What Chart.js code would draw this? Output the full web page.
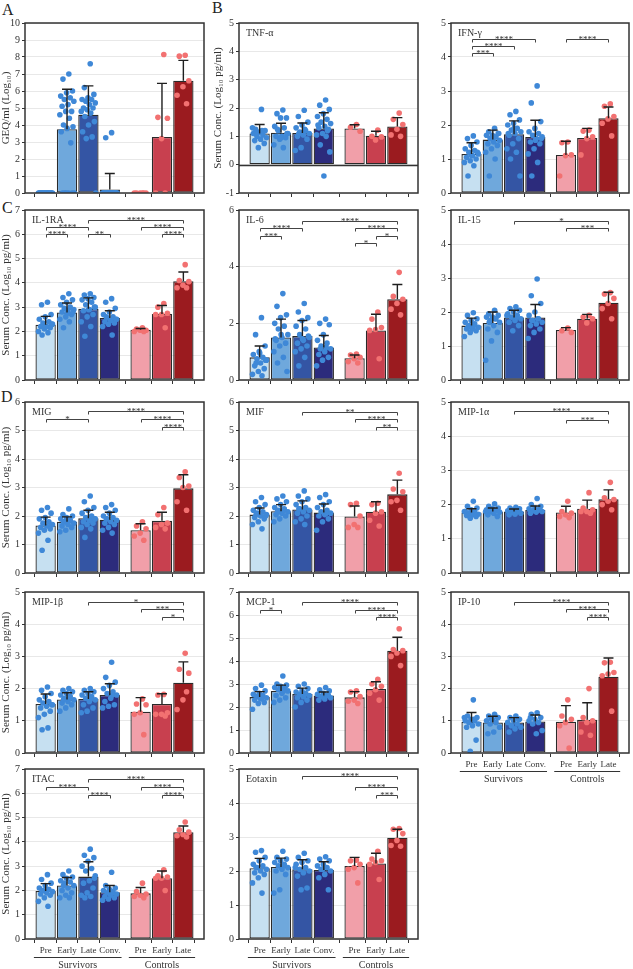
<!DOCTYPE html>
<html>
<head>
<meta charset="utf-8">
<script src="https://cdn.jsdelivr.net/npm/chart.js@4.4.1/dist/chart.umd.min.js"></script>
<style>
  html, body { margin: 0; padding: 0; background: #fff; }
  #wrap { position: relative; width: 633px; height: 969px; overflow: hidden; }
  #wrap canvas { position: absolute; left: 0; top: 0; }
  .letter { position: absolute; font-family: "Liberation Serif", "Times New Roman", serif; font-size: 16px; line-height: 16px; color: #222; }
</style>
</head>
<body>
<div id="wrap">
  <div class="letter" style="left:2px;top:2px">A</div>
  <div class="letter" style="left:212px;top:0px">B</div>
  <div class="letter" style="left:2px;top:200px">C</div>
  <div class="letter" style="left:1px;top:389px">D</div>
</div>
<script>
// groups on the x axis
const categories = ['Pre', 'Early', 'Late', 'Conv.', 'Pre', 'Early', 'Late'];
const groupOf = [0, 0, 0, 0, 1, 1, 1];
const groupNames = ['Survivors', 'Controls'];

// A: viral load
const geqMean = [0, 3.75, 4.6, 0.2, 0, 3.3, 6.6];
const geqErr = [0, 6.1, 6.3, 1.15, 0, 6.45, 7.8];
const geqPts = [
  [0, 0, 0, 0, 0, 0, 0, 0, 0, 0, 0, 0, 0, 0, 0, 0, 0, 0, 0, 0],
  [7.0, 6.7, 6.0, 5.9, 5.7, 5.6, 5.5, 5.4, 5.2, 5.1, 4.8, 4.8, 4.6, 4.4, 4.0, 3.9, 3.8, 3.6, 2.95, 0, 0, 0, 0, 0, 0],
  [7.6, 6.2, 5.8, 5.6, 5.5, 5.5, 5.4, 5.3, 5.2, 5.0, 5.0, 4.9, 4.8, 4.7, 4.5, 4.2, 4.0, 3.6, 3.3, 3.2, 0],
  [3.55, 3.25, 0, 0, 0, 0, 0, 0, 0, 0, 0, 0, 0, 0, 0, 0, 0, 0, 0, 0, 0, 0, 0, 0],
  [0, 0, 0, 0, 0, 0],
  [8.15, 4.45, 4.4, 3.2, 0, 0],
  [8.1, 8.05, 6.6, 6.25, 5.75, 5.25]
];

// TNF-a
const tnfMean = [1.1, 1.13, 1.12, 1.28, 1.28, 1.02, 1.35];
const tnfErr = [1.42, 1.46, 1.47, 1.83, 1.41, 1.18, 1.66];
const tnfPts = [
  [1.95, 1.25, 1.2, 1.15, 1.1, 1.05, 1.0, 0.95, 0.9, 0.85, 0.75, 0.6, 1.3, 1.2, 1.1],
  [1.93, 1.8, 1.65, 1.65, 1.35, 1.3, 1.2, 1.1, 1.0, 1.0, 0.95, 0.9, 0.7, 0.6, 1.25, 1.1, 0.95],
  [1.92, 1.7, 1.5, 1.4, 1.3, 1.2, 1.15, 1.1, 1.05, 1.0, 0.9, 0.6, 0.5, 1.25, 1.1],
  [2.28, 2.1, 1.95, 1.8, 1.7, 1.6, 1.5, 1.45, 1.35, 1.3, 1.25, 1.1, 1.05, 1.0, 0.7, 0.45, -0.4, 1.4, 1.2],
  [1.42, 1.32, 1.18],
  [1.22, 1.0, 0.98, 0.87],
  [1.82, 1.6, 1.42, 1.25, 1.05, 1.0]
];

// IFN-g
const ifnMean = [1.15, 1.57, 1.73, 1.65, 1.12, 1.62, 2.2];
const ifnErr = [1.48, 1.85, 2.12, 2.14, 1.52, 1.9, 2.53];
const ifnPts = [
  [1.68, 1.6, 1.5, 1.4, 1.3, 1.25, 1.2, 1.15, 1.1, 1.05, 1.0, 0.95, 0.9, 0.8, 0.5, 1.2, 1.1],
  [1.9, 1.8, 1.75, 1.7, 1.7, 1.65, 1.6, 1.55, 1.5, 1.45, 1.4, 1.3, 1.2, 1.0, 0.5, 1.75, 1.6],
  [2.4, 2.3, 2.15, 2.05, 2.0, 1.9, 1.85, 1.8, 1.75, 1.7, 1.6, 1.45, 1.3, 1.2, 1.0, 0.5, 1.9, 1.75],
  [3.15, 2.65, 2.1, 1.9, 1.8, 1.75, 1.7, 1.65, 1.6, 1.5, 1.45, 1.3, 1.15, 0.9, 0.5, 1.6, 1.55],
  [1.5, 1.48, 1.12, 1.1, 0.5],
  [1.85, 1.82, 1.65, 1.6, 1.12],
  [2.62, 2.55, 2.25, 2.18, 2.05, 1.68]
];
const ifnSig = [[0, 3, 4.54, '****'], [0, 2, 4.32, '****'], [0, 1, 4.12, '***'], [4, 6, 4.54, '****']];

// IL-1RA
const il1raMean = [2.28, 2.78, 2.93, 2.55, 2.07, 2.72, 4.07];
const il1raErr = [2.62, 3.17, 3.38, 2.85, 2.12, 3.07, 4.45];
const il1raPts = [
  [3.2, 3.1, 2.7, 2.6, 2.5, 2.4, 2.35, 2.3, 2.2, 2.2, 2.15, 2.1, 2.0, 1.95, 1.85, 2.3, 2.2],
  [3.55, 3.4, 3.3, 3.2, 3.1, 3.0, 2.95, 2.9, 2.85, 2.8, 2.7, 2.6, 2.5, 2.4, 2.15, 2.8, 2.75],
  [3.55, 3.5, 3.4, 3.35, 3.3, 3.2, 3.1, 3.0, 2.9, 2.85, 2.7, 2.6, 2.4, 2.2, 1.8, 3.0, 2.9],
  [3.35, 3.2, 2.95, 2.8, 2.7, 2.6, 2.55, 2.5, 2.45, 2.4, 2.35, 2.3, 2.2, 1.85, 2.6, 2.5],
  [2.15, 2.1, 2.05, 2.05, 2.0, 2.0],
  [3.15, 3.0, 2.75, 2.7, 2.7, 2.15],
  [4.75, 4.1, 4.05, 3.9, 3.8, 3.8]
];
const il1raSig = [[2, 6, 6.6, '****'], [0, 2, 6.3, '****'], [4, 6, 6.3, '****'], [0, 1, 6.0, '****'], [2, 3, 6.0, '**'], [5, 6, 6.0, '****']];

// IL-6
const il6Mean = [0.8, 1.5, 1.55, 1.15, 0.77, 1.75, 2.85];
const il6Err = [1.2, 2.15, 2.1, 1.57, 0.88, 2.32, 3.37];
const il6Pts = [
  [2.2, 1.6, 1.2, 1.0, 0.9, 0.8, 0.75, 0.7, 0.6, 0.5, 0.4, 0.3, 0.2, 0.15, 0.6, 0.7, 0.95],
  [3.05, 2.6, 2.3, 2.2, 2.0, 1.9, 1.8, 1.6, 1.5, 1.4, 1.3, 1.2, 1.0, 0.8, 0.6, 0.3, 1.6, 1.45],
  [2.7, 2.4, 2.2, 2.1, 1.9, 1.8, 1.6, 1.5, 1.4, 1.3, 1.2, 1.1, 1.0, 0.8, 0.5, 1.55, 1.45],
  [2.15, 2.0, 1.95, 1.6, 1.4, 1.3, 1.2, 1.1, 1.0, 0.9, 0.8, 0.7, 0.5, 1.15, 1.1],
  [0.92, 0.88, 0.8, 0.75, 0.65, 0.6],
  [2.4, 2.15, 1.85, 1.78, 1.75, 0.75],
  [3.8, 2.95, 2.85, 2.7, 2.5, 2.3]
];
const il6Sig = [[2, 6, 5.62, '****'], [0, 2, 5.35, '****'], [4, 6, 5.35, '****'], [0, 1, 5.09, '***'], [5, 6, 5.09, '*'], [4, 5, 4.82, '*']];

// IL-15
const il15Mean = [1.6, 1.68, 1.84, 1.84, 1.47, 1.8, 2.27];
const il15Err = [1.82, 2.0, 2.05, 2.22, 1.54, 1.93, 2.58];
const il15Pts = [
  [1.98, 1.9, 1.8, 1.75, 1.7, 1.65, 1.6, 1.55, 1.5, 1.5, 1.45, 1.4, 1.28, 1.6, 1.55],
  [2.05, 1.95, 1.9, 1.85, 1.85, 1.8, 1.75, 1.7, 1.6, 1.5, 1.4, 1.15, 0.58, 1.8, 1.7],
  [2.15, 2.1, 2.05, 2.0, 1.95, 1.9, 1.85, 1.8, 1.75, 1.7, 1.6, 1.45, 1.9, 1.85],
  [2.97, 2.48, 2.25, 2.0, 1.9, 1.8, 1.75, 1.7, 1.65, 1.6, 1.5, 1.4, 1.22, 1.8, 1.75],
  [1.53, 1.45, 1.4],
  [1.9, 1.85, 1.8, 1.68],
  [2.57, 2.53, 2.4, 2.25, 2.1, 1.8]
];
const il15Sig = [[2, 6, 4.69, '*'], [4, 6, 4.46, '***']];

// MIG
const migMean = [1.67, 1.8, 1.92, 1.87, 1.5, 1.83, 2.97];
const migErr = [1.96, 1.97, 2.2, 2.13, 1.73, 2.13, 3.45];
const migPts = [
  [2.3, 2.2, 2.1, 1.95, 1.9, 1.8, 1.75, 1.7, 1.65, 1.6, 1.55, 1.5, 1.4, 1.15, 0.8, 1.7],
  [2.25, 2.05, 2.0, 1.95, 1.9, 1.85, 1.8, 1.75, 1.7, 1.65, 1.6, 1.5, 1.45, 1.85, 1.8],
  [2.7, 2.5, 2.3, 2.2, 2.1, 2.0, 1.95, 1.9, 1.85, 1.8, 1.75, 1.7, 1.6, 1.55, 1.25, 1.9],
  [2.4, 2.3, 2.2, 2.1, 2.0, 1.95, 1.9, 1.85, 1.8, 1.75, 1.7, 1.6, 1.5, 1.4, 1.9],
  [1.8, 1.65, 1.55, 1.4, 1.3, 1.15],
  [2.3, 2.05, 1.75, 1.7, 1.6, 1.55],
  [3.55, 3.35, 3.05, 3.0, 2.5, 2.2]
];
const migSig = [[2, 6, 5.68, '****'], [0, 2, 5.4, '*'], [4, 6, 5.4, '****'], [5, 6, 5.14, '****']];

// MIF
const mifMean = [2.05, 2.17, 2.23, 2.12, 1.98, 2.15, 2.76];
const mifErr = [2.28, 2.4, 2.53, 2.42, 2.35, 2.5, 3.26];
const mifPts = [
  [2.65, 2.5, 2.4, 2.3, 2.2, 2.15, 2.1, 2.05, 2.0, 1.95, 1.9, 1.8, 1.7, 1.55, 2.05, 2.0],
  [2.7, 2.6, 2.5, 2.4, 2.3, 2.25, 2.2, 2.15, 2.1, 2.05, 2.0, 1.9, 1.8, 2.2, 2.15],
  [2.88, 2.7, 2.6, 2.5, 2.4, 2.3, 2.25, 2.2, 2.15, 2.1, 2.0, 1.9, 1.8, 1.7, 2.25],
  [2.75, 2.65, 2.5, 2.4, 2.3, 2.2, 2.15, 2.1, 2.05, 2.0, 1.9, 1.8, 1.5, 2.1],
  [2.45, 2.4, 2.0, 1.7, 1.6, 1.6],
  [2.45, 2.4, 2.15, 2.1, 1.85, 1.65],
  [3.5, 2.95, 2.85, 2.55, 2.5, 2.2]
];
const mifSig = [[2, 6, 5.66, '**'], [4, 6, 5.39, '****'], [5, 6, 5.13, '**']];

// MIP-1a
const mip1aMean = [1.77, 1.8, 1.8, 1.84, 1.77, 1.88, 2.16];
const mip1aErr = [1.88, 1.9, 1.87, 1.96, 1.95, 2.13, 2.43];
const mip1aPts = [
  [2.1, 1.95, 1.9, 1.85, 1.8, 1.78, 1.75, 1.72, 1.7, 1.68, 1.65, 1.6, 1.8, 1.75],
  [2.02, 1.95, 1.9, 1.88, 1.85, 1.82, 1.8, 1.78, 1.75, 1.7, 1.65, 1.82, 1.8],
  [1.92, 1.9, 1.88, 1.85, 1.82, 1.8, 1.78, 1.75, 1.72, 1.7, 1.8],
  [2.18, 2.0, 1.95, 1.9, 1.88, 1.85, 1.82, 1.8, 1.78, 1.75, 1.85],
  [2.1, 1.8, 1.75, 1.7, 1.65, 1.62],
  [2.35, 1.9, 1.85, 1.8, 1.8, 1.75],
  [2.65, 2.2, 2.15, 2.1, 2.0, 1.85]
];
const mip1aSig = [[2, 6, 4.73, '****'], [4, 6, 4.48, '***']];

// MIP-1b
const mip1bMean = [1.52, 1.66, 1.68, 1.8, 1.28, 1.52, 2.18];
const mip1bErr = [1.83, 1.87, 1.9, 2.15, 1.72, 1.84, 2.83];
const mip1bPts = [
  [2.05, 1.95, 1.85, 1.75, 1.65, 1.6, 1.55, 1.5, 1.45, 1.4, 1.3, 1.2, 1.1, 0.78, 0.72, 1.5],
  [2.0, 1.95, 1.9, 1.85, 1.8, 1.75, 1.7, 1.65, 1.6, 1.55, 1.5, 1.4, 1.3, 1.7, 1.65],
  [2.0, 1.95, 1.9, 1.85, 1.8, 1.75, 1.7, 1.65, 1.6, 1.5, 1.4, 1.3, 1.25, 1.7],
  [2.82, 2.35, 2.2, 2.1, 2.0, 1.9, 1.85, 1.8, 1.7, 1.6, 1.5, 1.45, 1.4, 1.8],
  [1.68, 1.52, 1.5, 1.25, 1.2, 0.57],
  [1.82, 1.8, 1.25, 1.2, 1.2, 1.15],
  [3.1, 2.6, 2.48, 1.65, 1.35, 1.9]
];
const mip1bSig = [[2, 6, 4.68, '*'], [4, 6, 4.46, '***'], [5, 6, 4.22, '*']];

// MCP-1
const mcp1Mean = [2.43, 2.7, 2.57, 2.5, 2.42, 2.78, 4.45];
const mcp1Err = [2.67, 2.95, 2.82, 2.65, 2.67, 3.1, 5.03];
const mcp1Pts = [
  [2.95, 2.8, 2.7, 2.6, 2.55, 2.5, 2.45, 2.4, 2.35, 2.3, 2.2, 2.15, 1.9, 2.4],
  [3.35, 3.0, 2.95, 2.9, 2.85, 2.8, 2.75, 2.7, 2.6, 2.5, 2.4, 2.3, 2.2, 2.7],
  [3.0, 2.9, 2.8, 2.7, 2.65, 2.6, 2.55, 2.5, 2.45, 2.4, 2.3, 2.2, 2.0, 2.55],
  [2.85, 2.75, 2.7, 2.6, 2.55, 2.5, 2.45, 2.4, 2.35, 2.3, 2.5],
  [2.7, 2.65, 2.45, 2.3, 2.25, 2.15],
  [3.2, 3.0, 2.9, 2.75, 2.6, 2.3],
  [5.4, 4.5, 4.45, 4.35, 4.2, 3.8]
];
const mcp1Sig = [[2, 6, 6.55, '****'], [0, 1, 6.23, '*'], [4, 6, 6.23, '****'], [5, 6, 5.9, '****']];

// IP-10
const ip10Mean = [0.97, 0.95, 0.95, 0.98, 0.97, 1.03, 2.37];
const ip10Err = [1.26, 1.14, 1.1, 1.18, 1.47, 1.56, 2.95];
const ip10Pts = [
  [1.65, 1.15, 1.1, 1.05, 1.0, 1.0, 0.95, 0.9, 0.85, 0.8, 0.4, 0.05, 1.1, 1.05],
  [1.2, 1.15, 1.1, 1.05, 1.0, 0.95, 0.9, 0.8, 0.65, 0.6, 1.1, 1.05],
  [1.15, 1.1, 1.05, 1.0, 0.95, 0.9, 0.85, 0.8, 0.75, 0.65, 1.05],
  [1.25, 1.2, 1.1, 1.05, 1.0, 0.95, 0.9, 0.7, 0.6, 1.1],
  [1.65, 1.15, 1.05, 0.95, 0.85, 0.15],
  [2.0, 1.1, 1.0, 0.95, 0.65, 0.55],
  [2.82, 2.8, 2.5, 2.45, 2.4, 1.3]
];
const ip10Sig = [[2, 6, 4.68, '****'], [4, 6, 4.46, '****'], [5, 6, 4.22, '****']];

// ITAC
const itacMean = [1.98, 2.2, 2.57, 1.93, 1.88, 2.5, 4.4];
const itacErr = [2.28, 2.53, 3.18, 2.2, 2.12, 2.8, 4.65];
const itacPts = [
  [2.65, 2.45, 2.3, 2.2, 2.1, 2.05, 2.0, 1.95, 1.9, 1.85, 1.8, 1.7, 1.55, 1.35, 2.0],
  [2.8, 2.65, 2.55, 2.5, 2.4, 2.35, 2.3, 2.2, 2.1, 2.0, 1.9, 1.8, 1.7, 1.7, 2.2],
  [3.7, 3.45, 3.35, 3.2, 3.0, 2.9, 2.8, 2.6, 2.4, 2.3, 2.1, 1.9, 1.8, 1.75, 1.7, 2.5],
  [2.75, 2.2, 2.1, 2.05, 2.0, 1.95, 1.9, 1.85, 1.8, 1.75, 1.7, 1.65, 1.6, 1.9],
  [2.3, 1.95, 1.85, 1.8, 1.75, 1.7],
  [2.85, 2.6, 2.55, 2.5, 2.5, 2.0],
  [4.82, 4.5, 4.4, 4.3, 4.25, 4.2]
];
const itacSig = [[2, 6, 6.59, '****'], [0, 2, 6.26, '****'], [4, 6, 6.26, '****'], [2, 3, 5.95, '****'], [5, 6, 5.95, '****']];

// Eotaxin
const eotMean = [2.08, 2.12, 2.05, 2.03, 2.15, 2.22, 2.98];
const eotErr = [2.37, 2.38, 2.33, 2.27, 2.4, 2.52, 3.23];
const eotPts = [
  [2.6, 2.55, 2.4, 2.3, 2.2, 2.15, 2.1, 2.05, 2.0, 1.95, 1.9, 1.8, 1.65, 1.35, 2.1],
  [2.58, 2.4, 2.35, 2.3, 2.25, 2.2, 2.15, 2.1, 2.05, 2.0, 1.9, 1.45, 1.35, 2.15],
  [2.52, 2.4, 2.3, 2.25, 2.2, 2.1, 2.05, 2.0, 1.95, 1.85, 1.5, 1.45, 2.1],
  [2.42, 2.35, 2.3, 2.2, 2.15, 2.1, 2.05, 2.0, 1.9, 1.8, 1.45, 2.05],
  [2.32, 2.3, 2.2, 2.1, 2.05, 1.65],
  [2.58, 2.35, 2.3, 2.25, 2.2, 1.75],
  [3.25, 3.23, 3.1, 2.9, 2.75, 2.73]
];
const eotSig = [[2, 6, 4.78, '****'], [4, 6, 4.47, '****'], [5, 6, 4.25, '***']];

// look
const barColors = ['#c6e0f1', '#6fa8dc', '#3455a4', '#2c2b7c', '#f19fa9', '#c8404f', '#9b1b1f'];
const survPtColor = '#3f88d7';
const ctrlPtColor = '#f27171';
const serif = '"Liberation Serif", "Times New Roman", serif';
const serumTitle = 'Serum Conc. (Log\u2081\u2080 pg/ml)';

const colBox = [[25, 204], [239, 418], [451, 631]];
const rowBox = [[23, 193], [210, 380], [402, 573], [592, 753], [769, 939]];

const panels = [
  { name: '', mean: geqMean, err: geqErr, pts: geqPts, sig: [], col: 0, row: 0, yMin: 0, yMax: 10, step: 1, yTitle: 'GEQ/ml (Log\u2081\u2080)' },
  { name: 'TNF-\u03b1', mean: tnfMean, err: tnfErr, pts: tnfPts, sig: [], col: 1, row: 0, yMin: -1, yMax: 5, step: 1, yTitle: serumTitle, yW: 27.6 },
  { name: 'IFN-\u03b3', mean: ifnMean, err: ifnErr, pts: ifnPts, sig: ifnSig, col: 2, row: 0, yMin: 0, yMax: 5, step: 1 },
  { name: 'IL-1RA', mean: il1raMean, err: il1raErr, pts: il1raPts, sig: il1raSig, col: 0, row: 1, yMin: 0, yMax: 7, step: 1, yTitle: serumTitle },
  { name: 'IL-6', mean: il6Mean, err: il6Err, pts: il6Pts, sig: il6Sig, col: 1, row: 1, yMin: 0, yMax: 6, step: 2 },
  { name: 'IL-15', mean: il15Mean, err: il15Err, pts: il15Pts, sig: il15Sig, col: 2, row: 1, yMin: 0, yMax: 5, step: 1 },
  { name: 'MIG', mean: migMean, err: migErr, pts: migPts, sig: migSig, col: 0, row: 2, yMin: 0, yMax: 6, step: 1, yTitle: serumTitle },
  { name: 'MIF', mean: mifMean, err: mifErr, pts: mifPts, sig: mifSig, col: 1, row: 2, yMin: 0, yMax: 6, step: 1 },
  { name: 'MIP-1\u03b1', mean: mip1aMean, err: mip1aErr, pts: mip1aPts, sig: mip1aSig, col: 2, row: 2, yMin: 0, yMax: 5, step: 1 },
  { name: 'MIP-1\u03b2', mean: mip1bMean, err: mip1bErr, pts: mip1bPts, sig: mip1bSig, col: 0, row: 3, yMin: 0, yMax: 5, step: 1, yTitle: serumTitle },
  { name: 'MCP-1', mean: mcp1Mean, err: mcp1Err, pts: mcp1Pts, sig: mcp1Sig, col: 1, row: 3, yMin: 0, yMax: 7, step: 1 },
  { name: 'IP-10', mean: ip10Mean, err: ip10Err, pts: ip10Pts, sig: ip10Sig, col: 2, row: 3, yMin: 0, yMax: 5, step: 1, labels: true },
  { name: 'ITAC', mean: itacMean, err: itacErr, pts: itacPts, sig: itacSig, col: 0, row: 4, yMin: 0, yMax: 7, step: 1, yTitle: serumTitle, labels: true },
  { name: 'Eotaxin', mean: eotMean, err: eotErr, pts: eotPts, sig: eotSig, col: 1, row: 4, yMin: 0, yMax: 5, step: 1, labels: true }
];

// controls sit a little apart from survivors
const groupGap = 0.44;
const xPos = categories.map((c, i) => i + (groupOf[i] ? groupGap : 0));
const xEdge = 0.965;
const xMin = xPos[0] - xEdge;
const xMax = xPos[xPos.length - 1] + xEdge;

// spread points across the bar (golden-ratio sequence, deterministic)
const spread = (j) => (((j + 1) * 0.618034) % 1 - 0.5) * 0.72;

function pointsFor(pts, group) {
    const out = [];
    pts.forEach((arr, i) => {
        if (groupOf[i] !== group) return;
        arr.forEach((v, j) => out.push({ x: xPos[i] + spread(j), y: v }));
    });
    return out;
}

function decorPlugin(p) {
    return {
        id: 'decor',
        afterDatasetsDraw(chart) {
            const ctx = chart.ctx, xs = chart.scales.x, ys = chart.scales.y;
            ctx.save();
            // error bars (mean to mean + SD)
            ctx.strokeStyle = '#1f1f1f';
            ctx.lineWidth = 1.4;
            p.mean.forEach((m, i) => {
                if (p.err[i] <= m) return;
                const x = xs.getPixelForValue(xPos[i]);
                const y0 = ys.getPixelForValue(m), y1 = ys.getPixelForValue(p.err[i]);
                ctx.beginPath();
                ctx.moveTo(x, y0); ctx.lineTo(x, y1);
                ctx.moveTo(x - 5, y1); ctx.lineTo(x + 5, y1);
                ctx.stroke();
            });
            // significance brackets
            ctx.strokeStyle = '#444';
            ctx.lineWidth = 1;
            ctx.fillStyle = '#333';
            ctx.font = '9px ' + serif;
            ctx.textAlign = 'center';
            ctx.textBaseline = 'alphabetic';
            p.sig.forEach(([a, b, y, label]) => {
                const x1 = Math.round(xs.getPixelForValue(xPos[a])) + 0.5;
                const x2 = Math.round(xs.getPixelForValue(xPos[b])) + 0.5;
                const yp = Math.round(ys.getPixelForValue(y)) + 0.5;
                ctx.beginPath();
                ctx.moveTo(x1, yp + 3); ctx.lineTo(x1, yp); ctx.lineTo(x2, yp); ctx.lineTo(x2, yp + 3);
                ctx.stroke();
                ctx.fillText(label, (x1 + x2) / 2, yp + 2);
            });
            ctx.restore();
        },
        afterDraw(chart) {
            const ctx = chart.ctx, a = chart.chartArea, xs = chart.scales.x, ys = chart.scales.y;
            ctx.save();
            if (p.yMin < 0) {
                const y0 = Math.round(ys.getPixelForValue(0)) + 0.5;
                ctx.strokeStyle = '#333';
                ctx.lineWidth = 1.3;
                ctx.beginPath(); ctx.moveTo(a.left, y0); ctx.lineTo(a.right, y0); ctx.stroke();
            }
            ctx.strokeStyle = '#333';
            ctx.lineWidth = 1.5;
            ctx.strokeRect(a.left, a.top, a.right - a.left, a.bottom - a.top);
            if (p.name) {
                ctx.fillStyle = '#333';
                ctx.font = '10px ' + serif;
                ctx.textAlign = 'left';
                ctx.textBaseline = 'middle';
                ctx.fillText(p.name, a.left + 7, a.top + 10);
            }
            if (p.labels) {
                ctx.fillStyle = '#333';
                ctx.font = '10px ' + serif;
                ctx.textAlign = 'center';
                ctx.textBaseline = 'middle';
                ctx.lineWidth = 1;
                groupNames.forEach((g, gi) => {
                    const idx = xPos.map((v, i) => i).filter(i => groupOf[i] === gi);
                    const x0 = xs.getPixelForValue(xPos[idx[0]] - 0.55);
                    const x1 = xs.getPixelForValue(xPos[idx[idx.length - 1]] + 0.55);
                    const yl = Math.round(a.bottom + 18) + 0.5;
                    ctx.beginPath(); ctx.moveTo(x0, yl); ctx.lineTo(x1, yl); ctx.stroke();
                    ctx.fillText(g, (x0 + x1) / 2, a.bottom + 26);
                });
            }
            ctx.restore();
        }
    };
}

function drawPanel(p) {
    const wrap = document.getElementById('wrap');
    const canvas = document.createElement('canvas');
    canvas.width = 633;
    canvas.height = 969;
    wrap.appendChild(canvas);

    const [l, r] = colBox[p.col];
    const [t, b] = rowBox[p.row];
    const yW = p.yW || 25;
    const xH = p.labels ? 32 : 6;

    new Chart(canvas.getContext('2d'), {
        type: 'bar',
        data: {
            datasets: [
                {
                    type: 'scatter',
                    data: pointsFor(p.pts, 1),
                    pointRadius: 2.8,
                    pointBackgroundColor: ctrlPtColor,
                    pointBorderWidth: 0,
                    order: 1
                },
                {
                    type: 'scatter',
                    data: pointsFor(p.pts, 0),
                    pointRadius: 2.8,
                    pointBackgroundColor: survPtColor,
                    pointBorderWidth: 0,
                    order: 1
                },
                {
                    type: 'bar',
                    data: p.mean.map((v, i) => ({ x: xPos[i], y: v })),
                    backgroundColor: barColors,
                    borderColor: '#2a2a2a',
                    borderWidth: 1.3,
                    borderSkipped: false,
                    barPercentage: 0.95,
                    categoryPercentage: 1,
                    order: 2
                }
            ]
        },
        options: {
            responsive: false,
            animation: false,
            events: [],
            layout: {
                padding: { left: l - yW, top: t, right: 633 - r, bottom: 969 - b - xH }
            },
            scales: {
                x: {
                    type: 'linear',
                    min: xMin,
                    max: xMax,
                    offset: false,
                    afterBuildTicks: (s) => { s.ticks = xPos.map(v => ({ value: v })); },
                    afterFit: (s) => { s.height = xH; },
                    ticks: {
                        autoSkip: false,
                        maxRotation: 0,
                        minRotation: 0,
                        padding: 2,
                        color: '#333',
                        font: { family: serif, size: 9 },
                        callback: (v, i) => p.labels ? categories[i] : ''
                    },
                    grid: { drawOnChartArea: false, drawTicks: true, tickLength: 4, tickColor: '#333', tickWidth: 1 },
                    border: { display: false }
                },
                y: {
                    min: p.yMin,
                    max: p.yMax,
                    afterFit: (s) => { s.width = yW; },
                    ticks: { stepSize: p.step, padding: 2, color: '#333', font: { family: serif, size: 10 } },
                    grid: { color: '#e2e2e2', lineWidth: 0.8, tickColor: '#333', tickLength: 3, tickWidth: 1 },
                    border: { display: false },
                    title: {
                        display: !!p.yTitle,
                        text: p.yTitle || '',
                        color: '#333',
                        padding: 0,
                        font: { family: serif, size: 11 }
                    }
                }
            },
            plugins: {
                legend: { display: false },
                tooltip: { enabled: false }
            }
        },
        plugins: [decorPlugin(p)]
    });
}

panels.forEach(drawPanel);
</script>
</body>
</html>
